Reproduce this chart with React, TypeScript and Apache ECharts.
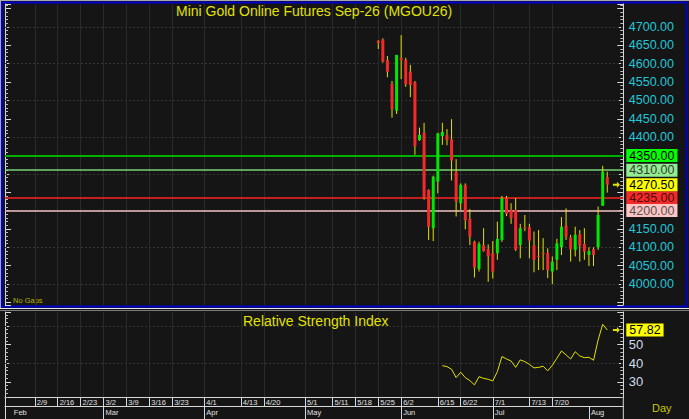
import { useEffect, useRef } from "react";
import * as echarts from "echarts";

// one slot per trading day, Feb to early Aug
const slotCount = 135;
const slots = Array.from({ length: slotCount }, (_, i) => `d${i}`);

// week row labels [slot, label]
const weekTicks: [number, string][] = [
  [6, "2/9"], [11, "2/16"], [16, "2/23"], [21, "3/2"], [26, "3/9"], [31, "3/16"],
  [36, "3/23"], [43, "4/1"], [51, "4/13"], [56, "4/20"], [65, "5/1"], [71, "5/11"],
  [76, "5/18"], [81, "5/25"], [86, "6/2"], [94, "6/15"], [99, "6/22"], [106, "7/1"],
  [114, "7/13"], [119, "7/20"],
];
// month row labels [slot, label]
const monthTicks: [number, string][] = [
  [1, "Feb"], [21, "Mar"], [43, "Apr"], [65, "May"], [86, "Jun"], [106, "Jul"], [127, "Aug"],
];

// daily candles, first one sits on slot candleStart
const candleStart = 81;
const opens = [
  4662, 4666, 4610, 4545, 4472, 4616, 4610, 4578, 4550, 4392, 4412, 4256, 4152, 4279,
  4403, 4406, 4394, 4306, 4220, 4270, 4177, 4115, 4041, 4106, 4095, 4084, 4084, 4120,
  4234, 4202, 4202, 4106, 4154, 4155, 4105, 4077, 4085, 4084, 4034, 4066, 4100, 4159,
  4127, 4093, 4136, 4109, 4079, 4095, 4100, 4213, 4291,
];
const highs = [
  4664, 4669, 4621, 4553, 4624, 4678, 4616, 4597, 4553, 4426, 4439, 4258, 4295, 4412,
  4439, 4422, 4449, 4340, 4274, 4274, 4204, 4118, 4115, 4152, 4108, 4117, 4170, 4240,
  4240, 4220, 4234, 4164, 4188, 4164, 4143, 4147, 4125, 4097, 4075, 4123, 4182, 4206,
  4134, 4156, 4147, 4152, 4100, 4100, 4211, 4322, 4306,
];
const lows = [
  4640, 4603, 4563, 4453, 4463, 4558, 4537, 4509, 4352, 4390, 4230, 4120, 4117, 4247,
  4379, 4378, 4282, 4184, 4202, 4149, 4106, 4018, 4034, 4088, 4006, 4015, 4066, 4115,
  4185, 4164, 4090, 4070, 4144, 4070, 4032, 4038, 4038, 4016, 4000, 4038, 4079, 4120,
  4061, 4075, 4061, 4066, 4049, 4049, 4093, 4213, 4249,
];
const closes = [
  4657, 4606, 4578, 4476, 4624, 4609, 4544, 4542, 4376, 4406, 4234, 4156, 4292, 4410,
  4414, 4392, 4336, 4224, 4270, 4174, 4129, 4045, 4109, 4090, 4075, 4034, 4123, 4234,
  4191, 4179, 4093, 4152, 4151, 4118, 4066, 4074, 4082, 4038, 4061, 4111, 4156, 4129,
  4095, 4134, 4104, 4088, 4090, 4079, 4188, 4306, 4270.5,
];

// RSI, first value on slot rsiStart
const rsiStart = 95;
const rsiValues = [
  38.7, 38.2, 36.8, 32.3, 35.2, 32.3, 30.7, 28.4, 32.8, 31.9, 31.4, 30.5, 35.5, 43.6,
  42.3, 41.2, 37.8, 41.8, 40.9, 39.4, 37.5, 37.8, 38.4, 35.9, 38.9, 42.7, 46.6, 44.5,
  42.3, 46.2, 43.9, 43.0, 43.2, 41.6, 52.5, 60.9, 57.82,
];

const priceGrid = [4000, 4100, 4200, 4300, 4400, 4500, 4600, 4700];
const rsiGrid = [40, 60];
const levelValues = [4350, 4310, 4235, 4200];
const levelStyles = [
  { line: "#00b000", badge: "#00ff00", text: "#000000", width: 2 },
  { line: "#78d078", badge: "#90ee90", text: "#3a3a3a", width: 1.5 },
  { line: "#ff2424", badge: "#f42a2a", text: "#4a0a0a", width: 1.5 },
  { line: "#f0c0c0", badge: "#ffc4c4", text: "#555555", width: 1.5 },
];
const markerSlot = 133;

const FONT = "'Liberation Sans', Arial, Helvetica, sans-serif";
const AXIS = "#d8d8d8";
const GRIDLINE = "#343434";
const VLINE = "#2a2a2a";

const weekSet = new Set(weekTicks.map((t) => t[0]));
const weekMap = new Map(weekTicks);
const monthSet = new Set(monthTicks.map((t) => t[0]));
const monthMap = new Map(monthTicks);

const lastClose = closes[closes.length - 1];
const lastRsi = rsiValues[rsiValues.length - 1];

// axis labels sitting under a badge are hidden (the badge covers them)
const priceBadges = [...levelValues, lastClose];
const priceLabel = (v: number) =>
  v % 50 === 0 && v >= 4000 && v <= 4700 && !priceBadges.some((b) => Math.abs(b - v) < 25)
    ? v.toFixed(2)
    : "";
const rsiLabel = (v: number) =>
  v % 10 === 0 && v >= 30 && v <= 60 && Math.abs(lastRsi - v) >= 5 ? String(v) : "";

const candleData = opens.map((o, k) => [candleStart + k, o, closes[k], lows[k], highs[k]]);
const closeLine = slots.map((_, i) =>
  i >= candleStart && i < candleStart + closes.length ? closes[i - candleStart] : "-"
);
const rsiLine = slots.map((_, i) =>
  i >= rsiStart && i < rsiStart + rsiValues.length ? rsiValues[i - rsiStart] : "-"
);

const arrowPath = "path://M0,2 L4,2 L4,0 L7,3 L4,6 L4,4 L0,4 Z";

const verticalLines = weekTicks.map(([i]) => ({
  xAxis: slots[i],
  lineStyle: { color: VLINE, type: "solid", width: 1 },
}));

function badge(text: string, bg: string, color: string) {
  return {
    show: true,
    position: "end",
    distance: 3,
    formatter: text,
    backgroundColor: bg,
    color,
    fontFamily: FONT,
    fontSize: 12.5,
    lineHeight: 13,
    padding: [0, 3, 0, 3],
  };
}

function renderCandle(_params: any, api: any) {
  const i = api.value(0);
  const o = api.value(1);
  const c = api.value(2);
  const pO = api.coord([i, o]);
  const pC = api.coord([i, c]);
  const pL = api.coord([i, api.value(3)]);
  const pH = api.coord([i, api.value(4)]);
  const bw = 3;
  const top = Math.min(pO[1], pC[1]);
  const h = Math.max(1, Math.abs(pO[1] - pC[1]));
  return {
    type: "group",
    children: [
      {
        type: "line",
        shape: { x1: pH[0], y1: pH[1], x2: pL[0], y2: pL[1] },
        style: { stroke: "#e2e200", lineWidth: 1 },
      },
      {
        type: "rect",
        shape: { x: pO[0] - bw / 2, y: top, width: bw, height: h },
        style: { fill: c >= o ? "#00e800" : "#f42a2a" },
      },
    ],
  };
}

const priceMin = 3942.9;
const priceMax = 4762.6;
const rsiMin = 21.9;
const rsiMax = 67.5;

const hiddenLine = { color: "rgba(0,0,0,0)", type: "solid", width: 1 };

const option = {
  animation: false,
  backgroundColor: "#151515",
  textStyle: { fontFamily: FONT },
  title: [
    {
      text: "Mini Gold Online Futures Sep-26 (MGOU26)",
      left: 176,
      top: 4,
      padding: 0,
      textStyle: { color: "#e2e200", fontSize: 14, fontWeight: "normal", fontFamily: FONT },
    },
    {
      text: "Relative Strength Index",
      left: 243,
      top: 314,
      padding: 0,
      textStyle: { color: "#e2e200", fontSize: 14, fontWeight: "normal", fontFamily: FONT },
    },
  ],
  grid: [
    { left: 5, top: 4, width: 618.3, height: 301 },
    { left: 5, top: 312, width: 618.3, height: 85 },
    { left: 5, top: 397, width: 618.3, height: 9 },
  ],
  xAxis: [
    {
      gridIndex: 0,
      type: "category",
      data: slots,
      boundaryGap: true,
      axisLine: { show: false },
      axisTick: { show: false },
      axisLabel: { show: false },
      splitLine: { show: false },
    },
    {
      gridIndex: 1,
      type: "category",
      data: slots,
      boundaryGap: true,
      axisLine: { show: true, lineStyle: { color: AXIS, width: 1 } },
      axisTick: {
        show: true,
        alignWithLabel: true,
        interval: (i: number) => weekSet.has(i),
        length: 9,
        lineStyle: { color: AXIS },
      },
      axisLabel: {
        interval: (i: number) => weekSet.has(i),
        formatter: (_v: string, i: number) => weekMap.get(i) ?? "",
        color: "#e0e0e0",
        fontSize: 7.5,
        lineHeight: 8,
        align: "left",
        margin: 1.5,
        padding: [0, 0, 0, 2],
      },
      splitLine: { show: false },
    },
    {
      gridIndex: 2,
      type: "category",
      data: slots,
      boundaryGap: true,
      position: "bottom",
      axisLine: { show: true, lineStyle: { color: AXIS, width: 1 } },
      axisTick: {
        show: true,
        alignWithLabel: true,
        interval: (i: number) => monthSet.has(i) && i > 1,
        length: 13,
        lineStyle: { color: AXIS },
      },
      axisLabel: {
        interval: (i: number) => monthSet.has(i),
        formatter: (_v: string, i: number) => monthMap.get(i) ?? "",
        color: "#e0e0e0",
        fontSize: 7.5,
        lineHeight: 8,
        align: "left",
        margin: 2,
        padding: [0, 0, 0, 2],
      },
      splitLine: { show: false },
    },
  ],
  yAxis: [
    {
      gridIndex: 0,
      type: "value",
      position: "right",
      min: priceMin,
      max: priceMax,
      splitNumber: 16,
      minInterval: 50,
      maxInterval: 50,
      axisLine: { show: true, lineStyle: { color: AXIS } },
      axisTick: { show: true, inside: true, length: 6, lineStyle: { color: AXIS } },
      minorTick: { show: true, splitNumber: 5, length: 3, lineStyle: { color: "#bdbdbd" } },
      axisLabel: {
        formatter: priceLabel,
        color: "#22c6da",
        fontSize: 12.5,
        margin: 5.5,
      },
      splitLine: { show: false },
    },
    {
      gridIndex: 0,
      type: "value",
      position: "left",
      min: priceMin,
      max: priceMax,
      splitNumber: 16,
      minInterval: 50,
      maxInterval: 50,
      axisLine: { show: true, lineStyle: { color: AXIS } },
      axisTick: { show: true, inside: true, length: 6, lineStyle: { color: AXIS } },
      minorTick: { show: true, splitNumber: 5, length: 3, lineStyle: { color: "#bdbdbd" } },
      axisLabel: { show: false },
      splitLine: { show: false },
    },
    {
      gridIndex: 1,
      type: "value",
      position: "right",
      min: rsiMin,
      max: rsiMax,
      splitNumber: 5,
      minInterval: 10,
      maxInterval: 10,
      axisLine: { show: true, lineStyle: { color: AXIS } },
      axisTick: { show: true, inside: true, length: 6, lineStyle: { color: AXIS } },
      minorTick: { show: true, splitNumber: 5, length: 3, lineStyle: { color: "#bdbdbd" } },
      axisLabel: {
        formatter: rsiLabel,
        color: "#d4dcec",
        fontSize: 13,
        margin: 5.5,
      },
      splitLine: { show: false },
    },
    {
      gridIndex: 1,
      type: "value",
      position: "left",
      min: rsiMin,
      max: rsiMax,
      splitNumber: 5,
      minInterval: 10,
      maxInterval: 10,
      axisLine: { show: true, lineStyle: { color: AXIS } },
      axisTick: { show: true, inside: true, length: 6, lineStyle: { color: AXIS } },
      minorTick: { show: true, splitNumber: 5, length: 3, lineStyle: { color: "#bdbdbd" } },
      axisLabel: { show: false },
      splitLine: { show: false },
    },
    { gridIndex: 2, type: "value", min: 0, max: 1, show: false },
  ],
  series: [
    {
      name: "levels",
      type: "line",
      xAxisIndex: 0,
      yAxisIndex: 0,
      data: closeLine,
      symbol: "none",
      silent: true,
      z: 1,
      lineStyle: { color: "rgba(0,0,0,0)", width: 0 },
      markLine: {
        silent: true,
        symbol: ["none", "none"],
        animation: false,
        label: { show: false },
        data: [
          ...priceGrid.map((v) => ({
            yAxis: v,
            lineStyle: { color: GRIDLINE, type: [2, 2], width: 1 },
          })),
          ...verticalLines,
          ...levelValues.map((v, k) => ({
            yAxis: v,
            lineStyle: { color: levelStyles[k].line, type: "solid", width: levelStyles[k].width },
            label: badge(v.toFixed(2), levelStyles[k].badge, levelStyles[k].text),
          })),
          {
            yAxis: lastClose,
            lineStyle: hiddenLine,
            label: badge(lastClose.toFixed(2), "#ffff00", "#000000"),
          },
        ],
      },
      markPoint: {
        silent: true,
        animation: false,
        symbol: arrowPath,
        symbolSize: [7, 6],
        itemStyle: { color: "#e2e200" },
        label: { show: false },
        data: [{ coord: [slots[markerSlot], lastClose] }],
      },
    },
    {
      name: "MGOU26",
      type: "custom",
      xAxisIndex: 0,
      yAxisIndex: 0,
      z: 10,
      silent: true,
      renderItem: renderCandle,
      encode: { x: 0, y: [1, 2, 3, 4] },
      data: candleData,
    },
    {
      name: "RSI",
      type: "line",
      xAxisIndex: 1,
      yAxisIndex: 2,
      data: rsiLine,
      symbol: "none",
      silent: true,
      z: 10,
      lineStyle: { color: "#e2e200", width: 1 },
      markLine: {
        silent: true,
        symbol: ["none", "none"],
        animation: false,
        label: { show: false },
        data: [
          ...rsiGrid.map((v) => ({
            yAxis: v,
            lineStyle: { color: GRIDLINE, type: [2, 2], width: 1 },
          })),
          ...verticalLines,
          {
            yAxis: lastRsi,
            lineStyle: hiddenLine,
            label: badge(lastRsi.toFixed(2), "#ffff00", "#000000"),
          },
        ],
      },
      markPoint: {
        silent: true,
        animation: false,
        symbol: arrowPath,
        symbolSize: [7, 6],
        itemStyle: { color: "#e2e200" },
        label: { show: false },
        data: [{ coord: [slots[markerSlot], lastRsi] }],
      },
    },
  ],
  graphic: [
    { type: "line", shape: { x1: 0, y1: 0.5, x2: 689, y2: 0.5 }, style: { stroke: "#a8a8a8", lineWidth: 1 } },
    { type: "line", shape: { x1: 0.5, y1: 0, x2: 0.5, y2: 308 }, style: { stroke: "#a8a8a8", lineWidth: 1 } },
    {
      type: "rect",
      shape: { x: 2, y: 2.5, width: 684.5, height: 304 },
      style: { fill: "none", stroke: "#0000cc", lineWidth: 2 },
    },
    { type: "line", shape: { x1: 0, y1: 308.5, x2: 689, y2: 308.5 }, style: { stroke: "#e8e8e8", lineWidth: 1 } },
    { type: "line", shape: { x1: 0, y1: 310.5, x2: 689, y2: 310.5 }, style: { stroke: "#7c7c7c", lineWidth: 1 } },
    { type: "line", shape: { x1: 5.5, y1: 397, x2: 5.5, y2: 419 }, style: { stroke: AXIS, lineWidth: 1 } },
    { type: "line", shape: { x1: 623.3, y1: 397, x2: 623.3, y2: 419 }, style: { stroke: AXIS, lineWidth: 1 } },
    {
      type: "text",
      x: 13,
      y: 296,
      style: { text: "No Gaps", fill: "#b4b400", font: `7.5px ${FONT}` },
    },
    {
      type: "text",
      x: 652,
      y: 402,
      style: { text: "Day", fill: "#c8c800", font: `11px ${FONT}` },
    },
  ],
};

export default function App() {
  const chartRef = useRef<HTMLDivElement>(null);

  useEffect(() => {
    const chart = echarts.init(chartRef.current, null, { renderer: "svg" });
    chart.setOption(option as any);
    return () => {
      chart.dispose();
    };
  }, []);

  return (
    <div
      ref={chartRef}
      style={{ position: "fixed", left: 0, top: 0, width: 689, height: 419 }}
    ></div>
  );
}
